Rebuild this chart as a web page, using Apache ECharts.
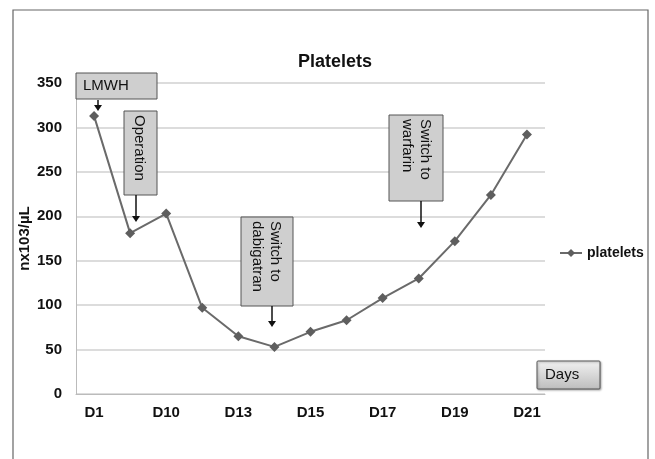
<!DOCTYPE html>
<html>
<head>
<meta charset="utf-8">
<script src="https://cdn.jsdelivr.net/npm/echarts@6/dist/echarts.min.js"></script>
<style>
html,body{margin:0;padding:0;background:#fff;}
#c{width:655px;height:459px;}
</style>
</head>
<body>
<div id="c"></div>
<script>
const categories = ['D1','D8','D10','D12','D13','D14','D15','D16','D17','D18','D19','D20','D21'];
const plateletValues = [313, 181, 203, 97, 65, 53, 70, 83, 108, 130, 172, 224, 292];
const yTicks = {min: 0, max: 350, interval: 50};
const titleText = 'Platelets';
const seriesName = 'platelets';
const yAxisName = 'nx103/µL';
const annotations = ['LMWH', 'Operation', 'Switch to\ndabigatran', 'Switch to\nwarfarin', 'Days'];

const chart = echarts.init(document.getElementById('c'), null, {renderer: 'canvas'});
const FONT = 'Liberation Sans, Arial, sans-serif';

function arrow(x, y1, y2) {
  return [
    {type: 'line', shape: {x1: x, y1: y1, x2: x, y2: y2 - 2}, style: {stroke: '#111', lineWidth: 1.5}, z: 100},
    {type: 'polygon', shape: {points: [[x - 4, y2 - 6], [x + 4, y2 - 6], [x, y2]]}, style: {fill: '#111'}, z: 100}
  ];
}
function box(x, y, w, h) {
  return {type: 'rect', shape: {x: x, y: y, width: w, height: h},
    style: {fill: '#cfcfcf', stroke: '#555', lineWidth: 1}, z: 90};
}
function vtext(cx, top, text) {
  return {type: 'text', x: cx, y: top, rotation: -Math.PI / 2,
    style: {text: text, x: 0, y: 0, align: 'left', verticalAlign: 'middle',
      font: '15px ' + FONT, fill: '#111', lineHeight: 18}, z: 95};
}

const graphics = [
  // outer frame
  {type: 'polyline', shape: {points: [[13, 459], [13, 10], [648, 10], [648, 459]]},
    style: {stroke: '#666', lineWidth: 1.2, fill: null}, z: 1},
  // LMWH
  box(76, 73, 81, 26),
  {type: 'text', x: 83, y: 86, style: {text: annotations[0], align: 'left', verticalAlign: 'middle',
    font: '15px ' + FONT, fill: '#111'}, z: 95},
  ...arrow(98, 100, 111),
  // Operation
  box(124, 111, 33, 84),
  vtext(139.5, 115, annotations[1]),
  ...arrow(136, 195, 222),
  // Switch to dabigatran
  box(241, 217, 52, 89),
  vtext(266, 221, annotations[2]),
  ...arrow(272, 306, 327),
  // Switch to warfarin
  box(389, 115, 54, 86),
  vtext(416, 119, annotations[3]),
  ...arrow(421, 201, 228),
  // Days
  {type: 'rect', shape: {x: 537, y: 361, width: 63, height: 28, r: 1},
    style: {fill: new echarts.graphic.LinearGradient(0, 0, 0, 1, [
      {offset: 0, color: '#f2f2f2'}, {offset: 1, color: '#bdbdbd'}]),
      stroke: '#555', lineWidth: 1, shadowBlur: 2, shadowColor: 'rgba(0,0,0,0.3)', shadowOffsetX: 1, shadowOffsetY: 1}, z: 90},
  {type: 'text', x: 545, y: 375, style: {text: annotations[4], align: 'left', verticalAlign: 'middle',
    font: '15px ' + FONT, fill: '#111'}, z: 95}
];

chart.setOption({
  animation: false,
  backgroundColor: '#fff',
  title: {text: titleText, left: 330, top: 48, textAlign: 'center',
    textStyle: {fontFamily: FONT, fontSize: 18, fontWeight: 'bold', color: '#111'}},
  legend: {data: [seriesName], left: 554, top: 241, itemWidth: 22, itemHeight: 10, itemGap: 4,
    textStyle: {fontFamily: FONT, fontSize: 14, fontWeight: 'bold', color: '#111'}},
  grid: {left: 76, right: 110, top: 83, bottom: 65, containLabel: false},
  xAxis: {
    type: 'category', data: categories, boundaryGap: true,
    axisLine: {lineStyle: {color: '#bbb', width: 1}},
    axisTick: {show: false},
    axisLabel: {interval: 1, margin: 11, fontFamily: FONT, fontSize: 15, fontWeight: 'bold', color: '#111'}
  },
  yAxis: {
    type: 'value', min: yTicks.min, max: yTicks.max, interval: yTicks.interval,
    name: yAxisName, nameLocation: 'middle', nameGap: 44, nameRotate: 90, nameMoveOverlap: false,
    nameTextStyle: {fontFamily: FONT, fontSize: 15, fontWeight: 'bold', color: '#111'},
    axisLine: {show: true, lineStyle: {color: '#bbb'}},
    axisTick: {show: false},
    splitLine: {lineStyle: {color: '#d0d0d0', width: 1.5}},
    axisLabel: {margin: 14, fontFamily: FONT, fontSize: 15, fontWeight: 'bold', color: '#111'}
  },
  series: [{
    name: seriesName, type: 'line', data: plateletValues,
    symbol: 'diamond', symbolSize: 10,
    lineStyle: {color: '#6a6a6a', width: 2},
    itemStyle: {color: '#5e5e5e'}
  }],
  graphic: graphics
});
</script>
</body>
</html>
